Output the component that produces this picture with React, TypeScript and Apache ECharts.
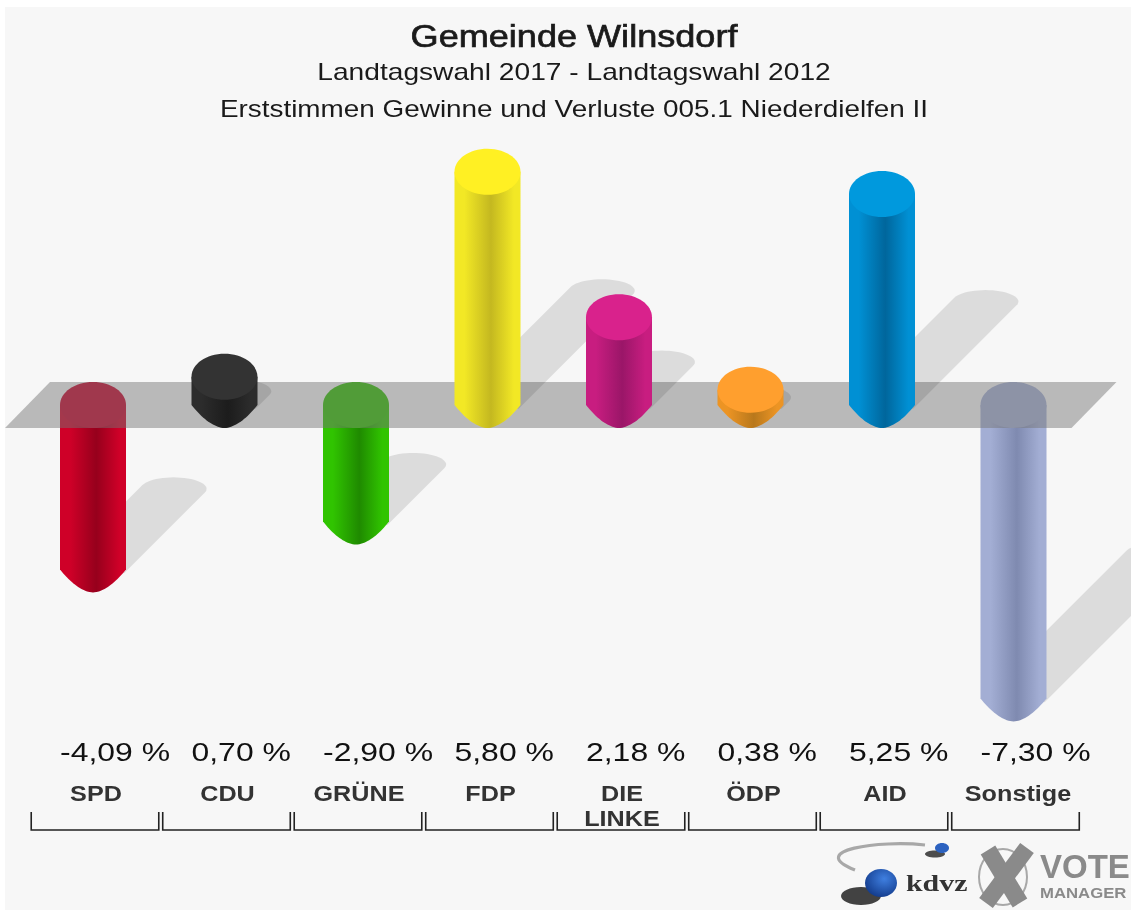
import React, { useEffect, useRef } from "react";
import * as echarts from "echarts";

const categories = ["SPD", "CDU", "GRÜNE", "FDP", "DIE\nLINKE", "ÖDP", "AID", "Sonstige"];
const values = [-4.09, 0.7, -2.9, 5.8, 2.18, 0.38, 5.25, -7.3];
const valueLabels = ["-4,09 %", "0,70 %", "-2,90 %", "5,80 %", "2,18 %", "0,38 %", "5,25 %", "-7,30 %"];
const discColors = ["#c8002a", "#333333", "#30c000", "#fff023", "#d9228c", "#ff9f2e", "#0099dd", "#a3aed4"];
const edgeColors = ["#cf0028", "#2c2c2c", "#30c400", "#f2e825", "#c81d80", "#ec9424", "#0090d4", "#a3aed4"];
const darkColors = ["#96001c", "#1c1c1c", "#1f8a00", "#c4b820", "#9a1668", "#b8781c", "#00669c", "#7f8ab0"];

const RX = 33;
const RY = 23;
const K = 0.49;
const FONT = "Liberation Sans";

function arcPoints(cx: number, cy: number, ry: number, from: number, to: number) {
  const out: number[][] = [];
  for (let i = 0; i <= 28; i++) {
    const a = from + ((to - from) * i) / 28;
    out.push([cx + RX * Math.cos(a), cy + ry * Math.sin(a)]);
  }
  return out;
}

function tipPoints(cx: number, cy: number) {
  const out: number[][] = [];
  for (let i = 0; i <= 40; i++) {
    const t = -1 + i / 20;
    out.push([cx + RX * t, cy + RY * (1 - Math.pow(Math.abs(t), 1.8))]);
  }
  return out;
}

function shadow(cx: number, base: number, h: number) {
  const L = h * K;
  const tx = cx + L;
  const ty = base - L;
  const ry = 11.5;
  const lean = Math.atan(ry / RX);
  const arc = arcPoints(tx, ty, ry, Math.PI + lean, 2 * Math.PI + lean);
  const first = arc[0];
  const last = arc[arc.length - 1];
  const pts = [[first[0] - L, first[1] + L], ...arc, [last[0] - L, last[1] + L]];
  return { type: "polygon", shape: { points: pts }, style: { fill: "rgba(0,0,0,0.105)" } };
}

function bodyFill(i: number) {
  return new echarts.graphic.LinearGradient(0, 0, 1, 0, [
    { offset: 0, color: edgeColors[i] },
    { offset: 0.15, color: edgeColors[i] },
    { offset: 0.55, color: darkColors[i] },
    { offset: 0.9, color: edgeColors[i] },
    { offset: 1, color: edgeColors[i] },
  ]);
}

function App() {
  const ref = useRef<HTMLDivElement>(null);
  useEffect(() => {
    const chart = echarts.init(ref.current!, null, { renderer: "svg" });

    const renderBar = (params: any, api: any) => {
      const i = api.value(0);
      const v = api.value(1);
      const [cx, y0] = api.coord([i, 0]);
      const [, y1] = api.coord([i, v]);
      const top = Math.min(y0, y1);
      const bottom = Math.max(y0, y1);
      const body = [[cx - RX, top], ...tipPoints(cx, bottom), [cx + RX, top]];
      return {
        type: "group",
        children: [
          { type: "polygon", shape: { points: body }, style: { fill: bodyFill(i) } },
          { type: "ellipse", shape: { cx, cy: top, rx: RX, ry: RY }, style: { fill: discColors[i] } },
        ],
      };
    };

    const renderShadow = (params: any, api: any) => {
      const i = api.value(0);
      const v = api.value(1);
      const [cx, y0] = api.coord([i, 0]);
      const [, y1] = api.coord([i, v]);
      return shadow(cx, Math.max(y0, y1), Math.abs(y1 - y0));
    };

    const renderBand = (params: any, api: any) => {
      const [x0, y0] = api.coord([0, 0]);
      const [x7] = api.coord([categories.length - 1, 0]);
      return {
        type: "polygon",
        shape: {
          points: [
            [x0 - 88, y0 + RY],
            [x0 - 43, y0 - RY],
            [x7 + 103, y0 - RY],
            [x7 + 58, y0 + RY],
          ],
        },
        style: { fill: "rgba(117,117,117,0.48)" },
      };
    };

    const renderLabels = (params: any, api: any) => {
      const i = api.value(0);
      const [cx] = api.coord([i, 0]);
      const half = api.size([1, 0])[0] * 0.485;
      const c = cx + 2;
      return {
        type: "group",
        children: [
          {
            type: "text",
            x: cx - RX,
            y: 752.5,
            scaleX: 1.228,
            style: { text: valueLabels[i], font: `26px '${FONT}'`, fill: "#111111", textAlign: "left", textVerticalAlign: "middle" },
          },
          {
            type: "text",
            x: c + (i === 7 ? 2.5 : 1),
            y: i === 4 ? 805.5 : 793,
            scaleX: 1.12,
            style: { text: categories[i], font: `bold 22.5px '${FONT}'`, lineHeight: 25, fill: "#333333", textAlign: "center", textVerticalAlign: "middle" },
          },
          {
            type: "polyline",
            shape: { points: [[c - half, 812], [c - half, 830], [c + half, 830], [c + half, 812]] },
            style: { stroke: "#222222", lineWidth: 1.6, fill: "none" },
          },
        ],
      };
    };

    const indexed = values.map((v, i) => [i, v]);
    const negative = indexed.filter((d) => d[1] < 0);
    const positive = indexed.filter((d) => d[1] >= 0);

    const title = (text: string, y: number, font: string, sx: number, extra: any = {}) => ({
      type: "text",
      x: 574,
      y,
      scaleX: sx,
      style: { text, font, fill: "#1a1a1a", textAlign: "center", textVerticalAlign: "middle", ...extra },
    });

    chart.setOption({
      animation: false,
      backgroundColor: "transparent",
      grid: { left: 27.25, width: 1052, top: 3, height: 804 },
      xAxis: { type: "category", data: categories, show: false },
      yAxis: { type: "value", min: -10, max: 10, show: false },
      series: [
        { type: "custom", z: 2, data: negative, renderItem: renderShadow, silent: true },
        { type: "custom", z: 3, data: negative, renderItem: renderBar, silent: true },
        { type: "custom", z: 4, data: [[0, 0]], renderItem: renderBand, silent: true },
        { type: "custom", z: 5, data: positive, renderItem: renderShadow, silent: true },
        { type: "custom", z: 6, data: positive, renderItem: renderBar, silent: true },
        { type: "custom", z: 7, data: indexed, renderItem: renderLabels, silent: true },
      ],
      graphic: [
        title("Gemeinde Wilnsdorf", 36, `32px '${FONT}'`, 1.128, { stroke: "#1a1a1a", lineWidth: 0.7 }),
        title("Landtagswahl 2017 - Landtagswahl 2012", 72, `23px '${FONT}'`, 1.225),
        title("Erststimmen Gewinne und Verluste 005.1 Niederdielfen II", 109, `23px '${FONT}'`, 1.213),
        {
          type: "bezierCurve",
          shape: { x1: 925, y1: 845, cpx1: 880, cpy1: 840, cpx2: 805, cpy2: 850, x2: 855, y2: 870 },
          style: { stroke: "#a8a8a8", lineWidth: 3.2, fill: "none" },
        },
        { type: "ellipse", shape: { cx: 861, cy: 896, rx: 20, ry: 9 }, style: { fill: "rgba(20,20,20,0.8)" } },
        {
          type: "ellipse",
          shape: { cx: 881, cy: 883, rx: 16, ry: 14 },
          style: {
            fill: new echarts.graphic.RadialGradient(0.6, 0.35, 0.7, [
              { offset: 0, color: "#3f7fe0" },
              { offset: 1, color: "#123a8a" },
            ]),
          },
        },
        { type: "ellipse", shape: { cx: 935, cy: 854, rx: 10, ry: 3.5 }, style: { fill: "rgba(20,20,20,0.75)" } },
        { type: "ellipse", shape: { cx: 942, cy: 848, rx: 7, ry: 5 }, style: { fill: "#2c62c0" } },
        {
          type: "text",
          x: 906,
          y: 883,
          scaleX: 1.3,
          style: { text: "kdvz", font: "bold 23px 'Liberation Serif'", fill: "#333333", textAlign: "left", textVerticalAlign: "middle" },
        },
        { type: "ellipse", shape: { cx: 1003, cy: 877, rx: 24, ry: 28 }, style: { stroke: "#a8a8a8", lineWidth: 2, fill: "none" } },
        { type: "line", shape: { x1: 988, y1: 850, x2: 1020, y2: 903 }, style: { stroke: "#8a8a8a", lineWidth: 17 } },
        { type: "line", shape: { x1: 1027, y1: 848, x2: 986, y2: 903 }, style: { stroke: "#8a8a8a", lineWidth: 17 } },
        {
          type: "text",
          x: 1040,
          y: 866,
          style: { text: "VOTE", font: `bold 33px '${FONT}'`, fill: "#8a8a8a", textAlign: "left", textVerticalAlign: "middle" },
        },
        {
          type: "text",
          x: 1040,
          y: 892.5,
          scaleX: 1.08,
          style: { text: "MANAGER", font: `bold 15.5px '${FONT}'`, fill: "#8a8a8a", textAlign: "left", textVerticalAlign: "middle" },
        },
      ],
    });
    return () => chart.dispose();
  }, []);
  return (
    <div style={{ position: "absolute", left: 0, top: 0, width: 1131, height: 911, background: "#ffffff", overflow: "hidden" }}>
      <div style={{ position: "absolute", left: 5, top: 7, width: 1126, height: 903, background: "#f7f7f7" }} />
      <div ref={ref} style={{ position: "absolute", left: 0, top: 0, width: 1131, height: 911, filter: "blur(0.6px)" }} />
    </div>
  );
}

export default App;
